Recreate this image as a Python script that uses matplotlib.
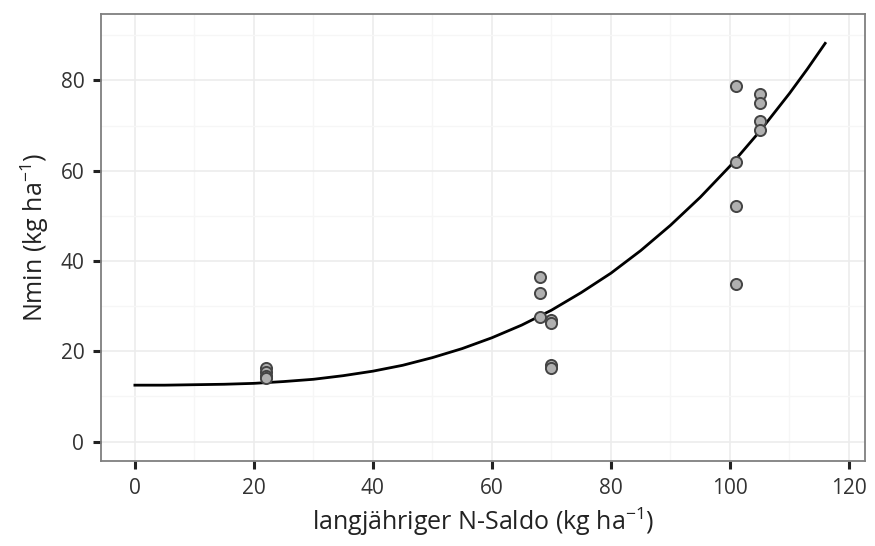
import matplotlib
matplotlib.use("Agg")
import matplotlib.pyplot as plt
from matplotlib.ticker import MultipleLocator

plt.rcParams['font.family'] = ['Open Sans', 'DejaVu Sans']
plt.rcParams['mathtext.default'] = 'regular'

# Observed points
obs_x = [22, 22, 22, 22,
         68, 68, 68, 70, 70, 70, 70,
         101, 101, 101, 101,
         105, 105, 105, 105]
obs_y = [16.3, 15.5, 14.5, 14.0,
         36.4, 33.0, 27.5, 27.0, 26.2, 16.9, 16.2,
         78.8, 62.0, 52.2, 35.0,
         77.0, 75.0, 71.0, 69.0]

# Fitted curve
curve_x = [0, 5, 10, 15, 20, 25, 30, 35, 40, 45, 50, 55, 60, 65, 70, 75,
           80, 85, 90, 95, 100, 105, 110, 113, 116]
curve_y = [12.5, 12.5, 12.6, 12.7, 12.9, 13.3, 13.8, 14.6, 15.6, 16.9, 18.6,
           20.6, 23.0, 25.8, 29.1, 33.0, 37.3, 42.3, 47.9, 54.1, 61.0, 68.7,
           77.1, 82.5, 88.2]

x_ticks = [0, 20, 40, 60, 80, 100, 120]
y_ticks = [0, 20, 40, 60, 80]

fig = plt.figure(figsize=(8.75, 5.46), dpi=100)
ax = fig.add_axes([0.1154, 0.1548, 0.8732, 0.8196])

ax.set_xlim(-5.7, 122.7)
ax.set_ylim(-4.4, 94.7)
ax.set_xticks(x_ticks)
ax.set_yticks(y_ticks)
ax.xaxis.set_minor_locator(MultipleLocator(10))
ax.yaxis.set_minor_locator(MultipleLocator(10))

ax.grid(which='major', color='#ececec', linewidth=1.2, zorder=0)
ax.grid(which='minor', color='#f6f6f6', linewidth=1.0, zorder=0)
ax.set_axisbelow(True)

ax.plot(curve_x, curve_y, color='black', linewidth=2.0, zorder=3,
        solid_joinstyle='round')
ax.scatter(obs_x, obs_y, s=64, facecolor='#b0b0b0', edgecolor='#444444',
           linewidth=1.4, zorder=4)

for side in ['left', 'bottom', 'top', 'right']:
    ax.spines[side].set_color('#7f7f7f')
    ax.spines[side].set_linewidth(1.3)

ax.tick_params(which='major', direction='out', length=6, width=2.2,
               color='#222222', labelsize=15, labelcolor='#333333', pad=6)
ax.tick_params(which='minor', length=0)

ax.set_xlabel('langjähriger N-Saldo (kg ha$^{-1}$)', fontsize=18, color='#222222', labelpad=5)
ax.set_ylabel('Nmin (kg ha$^{-1}$)', fontsize=18, color='#222222', labelpad=7)

fig.savefig('out.png', dpi=100)
